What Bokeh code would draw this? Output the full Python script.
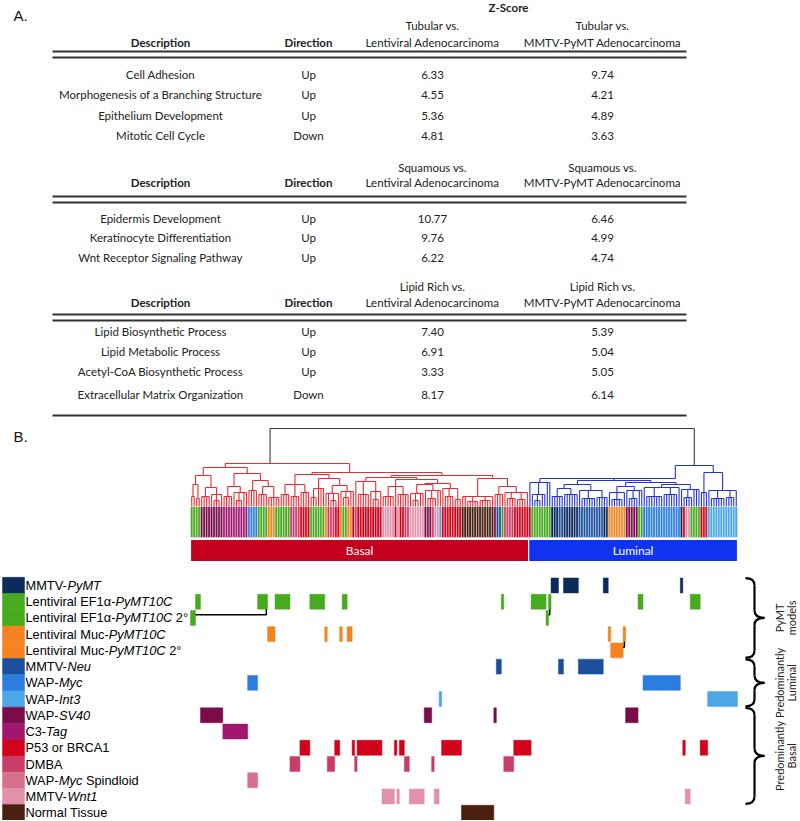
import math
from bokeh.plotting import figure
from bokeh.layouts import column
from bokeh.models import Range1d
from bokeh.core.properties import value
from bokeh.embed import file_html
from bokeh.resources import INLINE

# ================= Panel A: table data =================
zscore_title = "Z-Score"
col_headers = ["Description", "Direction"]
comparison_left = "Lentiviral Adenocarcinoma"
comparison_right = "MMTV-PyMT Adenocarcinoma"
block_phenotypes = ["Tubular", "Squamous", "Lipid Rich"]

tubular_desc = ["Cell Adhesion", "Morphogenesis of a Branching Structure",
                "Epithelium Development", "Mitotic Cell Cycle"]
tubular_dir = ["Up", "Up", "Up", "Down"]
tubular_lenti = [6.33, 4.55, 5.36, 4.81]
tubular_pymt = [9.74, 4.21, 4.89, 3.63]

squamous_desc = ["Epidermis Development", "Keratinocyte Differentiation",
                 "Wnt Receptor Signaling Pathway"]
squamous_dir = ["Up", "Up", "Up"]
squamous_lenti = [10.77, 9.76, 6.22]
squamous_pymt = [6.46, 4.99, 4.74]

lipid_desc = ["Lipid Biosynthetic Process", "Lipid Metabolic Process",
              "Acetyl-CoA Biosynthetic Process", "Extracellular Matrix Organization"]
lipid_dir = ["Up", "Up", "Up", "Down"]
lipid_lenti = [7.40, 6.91, 3.33, 8.17]
lipid_pymt = [5.39, 5.04, 5.05, 6.14]

# ================= Panel B: samples / models =================
N_SAMPLES = 220
subtype_names = ["Basal", "Luminal"]
subtype_starts = [0, 136]
subtype_ends = [136, 220]

model_prefix = ["MMTV-", "Lentiviral EF1\u03b1-", "Lentiviral EF1\u03b1-", "Lentiviral Muc-",
                "Lentiviral Muc-", "MMTV-", "WAP-", "WAP-", "WAP-", "C3-", "P53 or BRCA1",
                "DMBA", "WAP-", "MMTV-", "Normal Tissue"]
model_italic = ["PyMT", "PyMT10C", "PyMT10C", "PyMT10C", "PyMT10C", "Neu", "Myc", "Int3",
                "SV40", "Tag", "", "", "Myc", "Wnt1", ""]
model_suffix = ["", "", " 2\u00b0", "", " 2\u00b0", "", "", "", "", "", "", "",
                " Spindloid", "", ""]
model_colors = ["#0c2b5d", "#48aa1f", "#48aa1f", "#f5831f", "#f5831f", "#1b4f9d",
                "#2b7ee0", "#4ba7e7", "#7a0d49", "#a1166e", "#d2021b", "#c93e68",
                "#d56f8d", "#e092ab", "#4a2111"]
# (first sample, number of samples) of each model, in dendrogram leaf order
model_samples = [
    [(145, 3), (150, 6), (166, 2), (197, 1)],
    [(2, 2), (27, 4), (34, 6), (48, 6), (61, 2), (125, 1), (137, 6), (144, 1), (180, 2), (201, 4)],
    [(0, 2), (143, 1)],
    [(31, 3), (54, 1), (60, 1), (63, 2), (168, 1), (174, 1)],
    [(169, 5)],
    [(123, 2), (148, 2), (156, 10)],
    [(23, 4), (182, 15)],
    [(100, 1), (208, 12)],
    [(4, 9), (94, 3), (122, 1), (175, 5)],
    [(13, 10)],
    [(44, 4), (58, 2), (65, 1), (67, 10), (82, 1), (84, 2), (101, 8), (130, 7), (198, 1), (205, 3)],
    [(40, 4), (55, 3), (66, 1), (86, 2), (97, 1), (126, 4)],
    [(23, 4)],
    [(77, 5), (83, 1), (88, 6), (98, 2), (199, 2)],
    [(109, 13)],
]
# (secondary row, secondary end sample, primary row, primary sample)
transplant_links = [(2, 2, 1, 30), (2, 144, 1, 144), (4, 174, 3, 174)]

group_labels = [("PyMT", "models"), ("Predominantly", "Luminal"), ("Predominantly", "Basal")]
group_rows = [(0, 4), (5, 7), (8, 13)]

# dendrogram clusters: (first leaf, end leaf, merge height)
dendro_clusters = [
    (0, 220, 78),
    (0, 136, 43), (136, 220, 41),
    (0, 36, 39), (0, 13, 31), (0, 4, 22), (0, 2, 10), (2, 4, 8),
    (4, 13, 19), (4, 8, 10), (8, 13, 12), (9, 12, 6),
    (13, 36, 33), (13, 23, 20), (13, 17, 10), (17, 23, 14), (18, 21, 6),
    (23, 36, 26), (23, 27, 16), (27, 36, 20), (27, 31, 12), (31, 36, 9),
    (36, 136, 34), (36, 66, 32), (36, 48, 22), (36, 40, 12), (40, 44, 10), (44, 48, 14),
    (48, 66, 28), (48, 54, 18), (48, 51, 9), (54, 66, 21), (54, 60, 13), (56, 59, 6),
    (60, 66, 15), (61, 64, 9),
    (66, 136, 31), (66, 109, 29), (66, 77, 25), (67, 72, 12), (72, 77, 15), (73, 76, 7),
    (77, 109, 27), (77, 88, 20), (77, 82, 10), (83, 88, 12),
    (88, 109, 23), (88, 101, 22), (88, 94, 13), (89, 92, 6), (94, 101, 16), (95, 99, 8),
    (101, 109, 18), (102, 106, 10), (106, 109, 7),
    (109, 136, 28), (109, 122, 10), (111, 116, 5), (116, 121, 6),
    (122, 136, 20), (122, 126, 12), (126, 136, 14), (127, 131, 8), (131, 135, 7),
    (136, 205, 28), (136, 145, 24), (137, 143, 12), (138, 141, 6),
    (145, 205, 26), (145, 168, 22), (145, 156, 18), (145, 150, 10), (150, 156, 12),
    (156, 168, 16), (157, 163, 8), (163, 168, 9),
    (168, 205, 24), (168, 182, 20), (168, 175, 14), (169, 174, 7), (175, 182, 16), (176, 180, 8),
    (182, 205, 22), (182, 197, 19), (183, 190, 10), (190, 196, 12), (197, 205, 17), (198, 202, 9),
    (205, 220, 34), (205, 208, 14), (208, 220, 16), (209, 215, 8), (215, 219, 9),
]
# where a cluster's stem rises to its parent (leaf units)
dendro_stem_x = {(0, 136): 32, (36, 136): 64, (136, 205): 195}

# ================= layout helpers =================
W = 800
X0_REF = 190.0
PX_PER_SAMPLE = 547.0 / N_SAMPLES
ROW0_REF = 585.0
ROW_PITCH = 16.3
LEAF_REF = 506.0


def px(xref):
    return (xref - X0_REF) / PX_PER_SAMPLE


def mkfig(h, xr, yr):
    p = figure(width=W, height=h, x_range=xr, y_range=yr, output_backend="svg",
               toolbar_location=None, min_border=0, x_axis_location=None,
               y_axis_location=None)
    p.grid.visible = False
    p.outline_line_color = None
    p.background_fill_color = "white"
    p.border_fill_color = "white"
    return p


TFONT = value("Lato")
AFONT = value("Liberation Sans")

# ================= Figure A: table =================
pA = mkfig(424, Range1d(0, 800), Range1d(424, 0))
X_DESC, X_DIR, X_C1, X_C2 = 160, 308, 432, 602
LINE_X0, LINE_X1 = 52, 686
blocks = [
    (tubular_desc, tubular_dir, tubular_lenti, tubular_pymt, 25, 42, 51, 57, [74, 94, 115, 135]),
    (squamous_desc, squamous_dir, squamous_lenti, squamous_pymt, 167, 182, 196, 202, [218, 237, 257]),
    (lipid_desc, lipid_dir, lipid_lenti, lipid_pymt, 286, 302, 314, 320, [331, 351, 371, 394]),
]
nx, ny, nt = [], [], []
hx, hy, ht_ = [], [], []
bx, by, bt = [508], [7], [zscore_title]
lx0, lx1, ly = [], [], []
for bi, (desc, dirs, v1, v2, h1, h2, l1, l2, rows_y) in enumerate(blocks):
    ph = block_phenotypes[bi] + " vs."
    hx += [X_C1, X_C2, X_C1, X_C2]
    hy += [h1, h1, h2, h2]
    ht_ += [ph, ph, comparison_left, comparison_right]
    bx += [X_DESC, X_DIR]
    by += [h2, h2]
    bt += col_headers
    for yy in (l1, l2):
        lx0.append(LINE_X0); lx1.append(LINE_X1); ly.append(yy)
    for i, yy in enumerate(rows_y):
        nx += [X_DESC, X_DIR, X_C1, X_C2]
        ny += [yy] * 4
        nt += [desc[i], dirs[i], "%.2f" % v1[i], "%.2f" % v2[i]]
lx0.append(LINE_X0); lx1.append(LINE_X1); ly.append(415)

pA.segment(x0=lx0, y0=ly, x1=lx1, y1=ly, line_color="#333333", line_width=2)
pA.text(x=nx, y=ny, text=nt, text_font=TFONT, text_font_size="11.5px",
        text_align="center", text_baseline="middle", text_color="#222222")
pA.text(x=hx, y=hy, text=ht_, text_font=TFONT, text_font_size="11.5px",
        text_align="center", text_baseline="middle", text_color="#222222")
pA.text(x=bx, y=by, text=bt, text_font=TFONT, text_font_size="11.5px",
        text_font_style="bold", text_align="center", text_baseline="middle",
        text_color="#222222")
pA.text(x=[13], y=[15], text=["A."], text_font=AFONT, text_font_size="15px",
        text_align="left", text_baseline="middle", text_color="#111111")

# ================= Figure B: dendrogram + strip =================
pB = mkfig(148, Range1d(px(0), px(800)), Range1d(-66, 82))

# sample colour: first model row that contains the sample
sample_color = ["white"] * N_SAMPLES
for r in range(len(model_samples) - 1, -1, -1):
    for s, n in model_samples[r]:
        for i in range(s, s + n):
            sample_color[i] = model_colors[r]

# dendrogram geometry from the cluster list
cl = sorted(dendro_clusters, key=lambda c: (c[1] - c[0], c[0]))
node_x = {}
sx0, sy0, sx1, sy1, scol = [], [], [], [], []
root = max(dendro_clusters, key=lambda c: c[1] - c[0])
for c in cl:
    s, e, h = c
    inside = [d for d in cl if d != c and d[0] >= s and d[1] <= e and (d[1] - d[0]) < (e - s)]
    maximal = [d for d in inside if not any(
        o != d and o[0] <= d[0] and o[1] >= d[1] and (o[1] - o[0]) > (d[1] - d[0]) for o in inside)]
    children = []
    covered = set()
    for d in maximal:
        children.append((d[0], node_x[d], d[2]))
        covered.update(range(d[0], d[1]))
    for i in range(s, e):
        if i not in covered:
            children.append((i, i + 0.5, 0))
    children.sort()
    xs = [ch[1] for ch in children]
    stem = dendro_stem_x.get((s, e), (xs[0] + xs[-1]) / 2.0)
    node_x[c] = stem
    if c == root:
        col = "#3a3a3a"
    elif e <= subtype_ends[0]:
        col = "#ee2a30"
    else:
        col = "#2233dd"
    sx0.append(min(xs[0], stem)); sx1.append(max(xs[-1], stem))
    sy0.append(h); sy1.append(h); scol.append(col)
    for ch in children:
        sx0.append(ch[1]); sx1.append(ch[1]); sy0.append(ch[2]); sy1.append(h); scol.append(col)
pB.segment(x0=sx0, y0=sy0, x1=sx1, y1=sy1, line_color=scol, line_width=1.1)

# colour strip
idx = list(range(N_SAMPLES))
pB.quad(left=idx, right=[i + 1 for i in idx], top=[0] * N_SAMPLES, bottom=[-31] * N_SAMPLES,
        fill_color=sample_color, line_color="white", line_width=0.6, line_alpha=0.7)

# basal / luminal bars
pB.quad(left=subtype_starts, right=subtype_ends, top=[-33, -33], bottom=[-55, -55],
        fill_color=["#c3001d", "#1033f2"], line_color="white", line_width=1.2)
pB.text(x=[(a + b) / 2.0 for a, b in zip(subtype_starts, subtype_ends)], y=[-44, -44],
        text=subtype_names, text_font=TFONT, text_font_size="12px", text_color="white",
        text_align="center", text_baseline="middle")
pB.text(x=[px(13)], y=[LEAF_REF - 436], text=["B."], text_font=AFONT, text_font_size="15px",
        text_align="left", text_baseline="middle", text_color="#111111")

# ================= Figure C: model heatmap =================
pC = mkfig(248, Range1d(px(0), px(800)),
           Range1d((821 - ROW0_REF) / ROW_PITCH, (572 - ROW0_REF) / ROW_PITCH))
nrows = len(model_prefix)
rows = list(range(nrows))

# legend colour boxes
pC.quad(left=[px(2)] * nrows, right=[px(24)] * nrows, top=[r - 0.5 for r in rows],
        bottom=[r + 0.5 for r in rows], fill_color=model_colors, line_color=model_colors,
        line_width=0.5)

ARIAL_W = {' ': 278, '-': 333, '.': 278, '\u00b0': 400, '\u03b1': 578,
           'A': 667, 'B': 667, 'C': 722, 'D': 722, 'E': 667, 'F': 611, 'G': 778, 'H': 722,
           'I': 278, 'J': 500, 'K': 667, 'L': 556, 'M': 833, 'N': 722, 'O': 778, 'P': 667,
           'Q': 778, 'R': 722, 'S': 667, 'T': 611, 'U': 722, 'V': 667, 'W': 944, 'X': 667,
           'Y': 667, 'Z': 611, 'a': 556, 'b': 556, 'c': 500, 'd': 556, 'e': 556, 'f': 278,
           'g': 556, 'h': 556, 'i': 222, 'j': 222, 'k': 500, 'l': 222, 'm': 833, 'n': 556,
           'o': 556, 'p': 556, 'q': 556, 'r': 333, 's': 500, 't': 278, 'u': 556, 'v': 500,
           'w': 722, 'x': 500, 'y': 500, 'z': 500}
FS = 12.8


def tw(s):
    return sum(ARIAL_W.get(ch, 556) for ch in s) * FS / 1000.0


lab_x = px(25)
suffix_text = [s.lstrip(" ") for s in model_suffix]
suffix_off = [tw(a) + tw(b) + tw(s[:len(s) - len(s.lstrip(" "))])
              for a, b, s in zip(model_prefix, model_italic, model_suffix)]
pC.text(x=[lab_x] * nrows, y=rows, text=model_prefix, text_font=AFONT,
        text_font_size="%spx" % FS, text_align="left", text_baseline="middle", text_color="black")
pC.text(x=[lab_x] * nrows, y=rows, text=model_italic, x_offset=[tw(s) for s in model_prefix],
        text_font=AFONT, text_font_size="%spx" % FS, text_font_style="italic",
        text_align="left", text_baseline="middle", text_color="black")
pC.text(x=[lab_x] * nrows, y=rows, text=suffix_text, x_offset=suffix_off,
        text_font=AFONT, text_font_size="%spx" % FS, text_align="left",
        text_baseline="middle", text_color="black")

# heatmap cells
hl, hr, htp, hb, hc = [], [], [], [], []
for r in rows:
    for s, n in model_samples[r]:
        hl.append(s); hr.append(s + n); htp.append(r - 0.46); hb.append(r + 0.46)
        hc.append(model_colors[r])
pC.quad(left=hl, right=hr, top=htp, bottom=hb, fill_color=hc, line_color=hc, line_width=0.5)

# transplant links
mx, my = [], []
for srow, send, prow, psamp in transplant_links:
    yy = srow - 0.2
    xp = psamp + 0.5
    mx.append([send, xp, xp]); my.append([yy, yy, prow + 0.46])
pC.multi_line(xs=mx, ys=my, line_color="black", line_width=1.5)

# braces
XA, XB, XC = px(745), px(754), px(764)
qx0, qy0, qx1, qy1, qcx, qcy = [], [], [], [], [], []
bsx0, bsy0, bsx1, bsy1 = [], [], [], []
lbx, lby, lbt = [], [], []
for (r0, r1), (t1, t2) in zip(group_rows, group_labels):
    y0 = r0 - 0.45
    y1 = r1 + 0.45
    ym = (y0 + y1) / 2.0
    d = 0.45
    for (a, b, c) in [((XA, y0), (XB, y0 + d), (XB, y0)),
                      ((XB, ym - d), (XC, ym), (XB, ym)),
                      ((XC, ym), (XB, ym + d), (XB, ym)),
                      ((XB, y1 - d), (XA, y1), (XB, y1))]:
        qx0.append(a[0]); qy0.append(a[1]); qx1.append(b[0]); qy1.append(b[1])
        qcx.append(c[0]); qcy.append(c[1])
    bsx0 += [XB, XB]; bsy0 += [y0 + d, ym + d]; bsx1 += [XB, XB]; bsy1 += [ym - d, y1 - d]
    lbx += [px(779), px(791)]; lby += [ym, ym]; lbt += [t1, t2]
pC.quadratic(x0=qx0, y0=qy0, x1=qx1, y1=qy1, cx=qcx, cy=qcy, line_color="black", line_width=2.2)
pC.segment(x0=bsx0, y0=bsy0, x1=bsx1, y1=bsy1, line_color="black", line_width=2.2)
pC.text(x=lbx, y=lby, text=lbt, angle=math.pi / 2, text_font=TFONT, text_font_size="11px",
        text_align="center", text_baseline="middle", text_color="#222222")

layout = column(pA, pB, pC, spacing=0)
open("out.html", "w").write(file_html(layout, INLINE))
